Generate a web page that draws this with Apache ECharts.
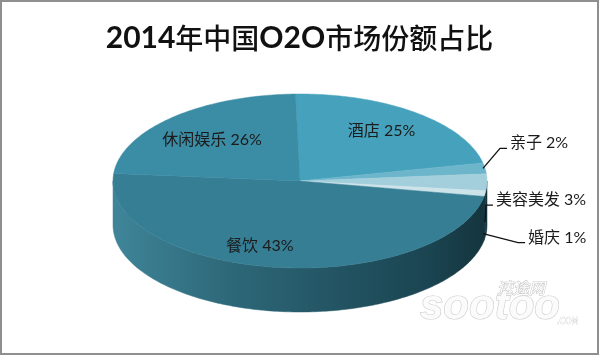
<!DOCTYPE html>
<html><head><meta charset="utf-8">
<script src="https://cdn.jsdelivr.net/npm/echarts@6/dist/echarts.min.js"></script>
<style>html,body{margin:0;padding:0;background:#fff}#c{width:599px;height:355px}</style>
</head><body><div id="c"></div>
<script>
// ---- data (clockwise from 12 o'clock) ----
const categories = ['酒店', '亲子', '美容美发', '婚庆', '餐饮', '休闲娱乐'];
const values = [25, 2, 3, 1, 43, 26];
const percentLabels = ['25%', '2%', '3%', '1%', '43%', '26%'];
const titleText = '2014年中国O2O市场份额占比';

// ---- styling / layout ----
const topColors = ['#46A2BC', '#6CB5CA', '#A3CEDB', '#CDE3EA', '#367E94', '#3B8CA5'];
const G = { cx: 300, cy: 181, rx: 187, ry: 87, depth: 44, start: -1.7, persp: 10.3 };
const labelCfg = [
  { inside: true, r: 0.72, dx: 2, dy: 0 },
  { inside: false, drop: 0, tx: 27, ty: -25 },
  { inside: false, drop: 40, tx: 11, ty: -22 },
  { inside: false, drop: 40, tx: 45, ty: 4 },
  { inside: true, r: 0.72, dx: -20, dy: 3 },
  { inside: true, r: 0.72, dx: 0, dy: 6 }
];
const FONT = '16px Lato, "Noto Sans CJK SC", sans-serif';

const total = values.reduce((a, b) => a + b, 0);
const starts = [];
values.reduce((acc, v, i) => { starts[i] = acc; return acc + v; }, 0);

function phi(t) { return t - G.persp * Math.sin(t * Math.PI / 180); }
function pt(p, dy) {
  const r = p * Math.PI / 180;
  return [G.cx + G.rx * Math.sin(r), G.cy - G.ry * Math.cos(r) + (dy || 0)];
}
function arc(a, b, dy) {
  const pts = [];
  const n = Math.max(2, Math.ceil(Math.abs(b - a)));
  for (let i = 0; i <= n; i++) pts.push(pt(a + (b - a) * i / n, dy));
  return pts;
}

const sideGrad = new echarts.graphic.LinearGradient(113, 0, 487, 0, [
  { offset: 0, color: '#3F8599' },
  { offset: 0.3, color: '#2E6979' },
  { offset: 0.6, color: '#235463' },
  { offset: 0.85, color: '#1A4450' },
  { offset: 1, color: '#14343D' }
], true);

function renderItem(params, api) {
  const i = params.dataIndex;
  const v = api.value(0);
  const t0 = G.start + 360 * starts[i] / total;
  const t1 = t0 + 360 * v / total;
  const p0 = phi(t0), p1 = phi(t1);
  const children = [];
  const a = Math.max(p0, 90), b = Math.min(p1, 270);
  if (a < b) {
    const pts = arc(a, b, 0).concat(arc(b, a, G.depth));
    children.push({ type: 'polygon', shape: { points: pts }, style: { fill: sideGrad, stroke: sideGrad, lineWidth: 0.5 } });
  }
  const topPts = [[G.cx, G.cy]].concat(arc(p0, p1, 0));
  children.push({ type: 'polygon', shape: { points: topPts }, style: { fill: topColors[i], stroke: topColors[i], lineWidth: 0.5 } });

  const mid = phi((t0 + t1) / 2);
  const cfg = labelCfg[i];
  const txt = categories[i] + ' ' + percentLabels[i];
  if (cfg.inside) {
    const rr = mid * Math.PI / 180;
    const x = G.cx + G.rx * cfg.r * Math.sin(rr) + cfg.dx;
    const y = G.cy - G.ry * cfg.r * Math.cos(rr) + cfg.dy;
    children.push({ type: 'text', x: x, y: y, z2: 10,
      style: { text: txt, font: FONT, fill: '#1b1b1b', textAlign: 'center', textVerticalAlign: 'middle', align: 'center', verticalAlign: 'middle' } });
  } else {
    const an = pt(mid, cfg.drop);
    an[0] -= 2;
    const tx = an[0] + cfg.tx, ty = an[1] + cfg.ty;
    children.push({ type: 'polyline', z2: 10, shape: { points: [an, [tx - 10, ty + 5], [tx - 3, ty + 5]] },
      style: { stroke: '#111', lineWidth: 1.3, fill: null } });
    children.push({ type: 'text', x: tx, y: ty, z2: 10,
      style: { text: txt, font: FONT, fill: '#1b1b1b', textAlign: 'left', textVerticalAlign: 'middle', align: 'left', verticalAlign: 'middle' } });
  }
  return { type: 'group', children: children };
}

// title: latin/digit runs bold, CJK runs regular
const richTitle = titleText.replace(/([0-9A-Za-z]+)|([^0-9A-Za-z]+)/g,
  (m, lat, cjk) => lat ? '{b|' + lat + '}' : '{n|' + cjk + '}');

const chart = echarts.init(document.getElementById('c'), null, { renderer: 'canvas' });
chart.setOption({
  backgroundColor: '#ffffff',
  animation: false,
  title: {
    text: richTitle, left: 'center', top: 18,
    textStyle: {
      fontSize: 29, color: '#111',
      rich: {
        b: { fontSize: 30, fontWeight: 'bold', color: '#111', fontFamily: 'Lato, "Noto Sans CJK SC", sans-serif' },
        n: { fontSize: 28, fontWeight: 500, color: '#111', fontFamily: '"Noto Sans CJK SC", sans-serif' }
      }
    }
  },
  graphic: [
    { type: 'rect', shape: { x: 1, y: 1, width: 597, height: 353 }, style: { fill: null, stroke: '#8f8f8f', lineWidth: 2 }, z: 100 },
    { type: 'text', x: 497, y: 288, style: { text: '速途网', font: 'italic 16px "Noto Sans CJK SC"', fill: '#ffffff', stroke: '#c4c4c4', lineWidth: 1, textVerticalAlign: 'middle', verticalAlign: 'middle' }, z: 50 },
    { type: 'text', x: 420, y: 307, style: { text: 'sootoo', font: 'italic bold 42px "Liberation Sans"', fill: '#fbfbfb', stroke: '#cccccc', lineWidth: 1.2, textVerticalAlign: 'middle', verticalAlign: 'middle' }, z: 50 },
    { type: 'text', x: 557, y: 322, style: { text: '.COM', font: '8px "DejaVu Sans"', fill: '#ffffff', stroke: '#c4c4c4', lineWidth: 0.6, textVerticalAlign: 'middle', verticalAlign: 'middle' }, z: 50 }
  ],
  series: [{
    type: 'custom',
    coordinateSystem: 'none',
    renderItem: renderItem,
    data: values.map((v, i) => ({ name: categories[i], value: [v] }))
  }]
});
</script>
</body></html>
